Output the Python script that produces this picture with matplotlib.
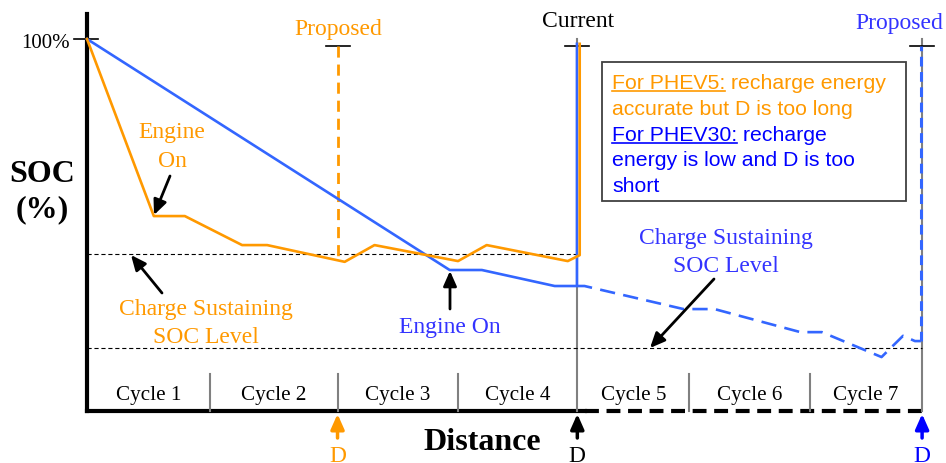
import matplotlib
matplotlib.use("Agg")
import matplotlib.pyplot as plt
from matplotlib.patches import Rectangle

plt.rcParams['lines.scale_dashes'] = False

# ---------------- data (distance in cycles, SOC in %) ----------------
cycle_edges = [0.0, 1.03, 2.10, 3.11, 4.11, 5.05, 6.06, 7.0]
cycle_labels = ["Cycle 1", "Cycle 2", "Cycle 3", "Cycle 4", "Cycle 5", "Cycle 6", "Cycle 7"]
cs_level_phev5 = 42.2
cs_level_phev30 = 16.9
soc_top = 100

phev5_d = [0.0, 0.56, 0.82, 1.30, 1.51, 2.16, 2.41, 3.11, 3.35, 4.03, 4.13, 4.13]
phev5_soc = [100, 52.4, 52.4, 44.6, 44.6, 40.1, 44.6, 40.3, 44.6, 40.3, 41.9, 98.7]

phev30_d = [0.0, 3.04, 3.31, 3.92, 4.107, 4.107]
phev30_soc = [100, 37.9, 37.9, 33.6, 33.6, 98.7]

phev30_proj_d = [4.107, 4.17, 5.00, 5.26, 5.98, 6.16, 6.66, 6.84, 6.94, 6.99, 6.99]
phev30_proj_soc = [33.6, 33.6, 27.4, 27.4, 21.2, 21.2, 14.5, 20.2, 18.8, 18.8, 98.1]

d_proposed_phev5 = 2.10
d_current = 4.11
d_proposed_phev30 = 7.0

ORANGE = '#FF9900'
BLUE_LINE = '#3366FF'
BLUE_TXT = '#3333FF'
BLUE = '#0000FF'
GRAY = '#808080'
SERIF = ['Liberation Serif', 'DejaVu Serif']
SANS = ['Liberation Sans', 'DejaVu Sans']

# pixel helpers for layout
SX, SY = 119.3, 3.72
OX, OY = 87, 412
def X(px):
    return (px - OX) / SX
def Y(py):
    return (OY - py) / SY

fig = plt.figure(figsize=(9.46, 4.64), dpi=100)
ax = fig.add_axes([0, 0, 1, 1])
ax.set_xlim(X(0), X(946))
ax.set_ylim(Y(464), Y(0))
ax.axis('off')

def stext(px, base, s, size=17, color='k', bold=False, ha='center'):
    ax.text(X(px), Y(base), s, ha=ha, va='baseline', fontsize=size, color=color,
            family=SERIF, fontweight='bold' if bold else 'normal')

# axes lines
ax.plot([0, 0], [0, Y(15)], color='k', lw=3, solid_capstyle='projecting')
ax.plot([0, X(585)], [0, 0], color='k', lw=3, solid_capstyle='projecting')
ax.plot([X(585), cycle_edges[-1]], [0, 0], color='k', lw=3, linestyle=(0, (10, 5.5)))

# 100% tick
ax.plot([X(74), X(98)], [soc_top, soc_top], color='k', lw=1.2)
stext(70, 48, "100%", size=15, ha='right')

# cycle dividers and labels
for e in cycle_edges[1:-1]:
    if abs(e - d_current) > 0.05:
        ax.plot([e, e], [0, Y(375)], color=GRAY, lw=1.5)
for i, lab in enumerate(cycle_labels):
    ax.text((cycle_edges[i] + cycle_edges[i + 1]) / 2, Y(400.5), lab, ha='center', va='baseline',
            fontsize=15.2, family=SERIF)

# full-height gray lines (current and right end)
for d in [d_current, d_proposed_phev30]:
    ax.plot([d, d], [0, Y(40)], color=GRAY, lw=1.5)

# top ticks
for d in [d_proposed_phev5, d_current, d_proposed_phev30]:
    ax.plot([d - 12 / SX, d + 12 / SX], [Y(47), Y(47)], color='k', lw=1.2)

# CS dotted levels
ax.plot([0, d_current], [cs_level_phev5, cs_level_phev5], color='k', lw=0.8, linestyle=(0, (3, 2)))
ax.plot([0, d_proposed_phev30], [cs_level_phev30, cs_level_phev30], color='k', lw=0.8, linestyle=(0, (3, 2)))

# proposed PHEV5 dashed line
ax.plot([d_proposed_phev5, d_proposed_phev5], [Y(47), 40.3], color=ORANGE, lw=2, linestyle=(0, (8, 5)))

# SOC traces
ax.plot(phev30_d, phev30_soc, color=BLUE_LINE, lw=1.9)
ax.plot(phev5_d, phev5_soc, color=ORANGE, lw=1.9)
ax.plot(phev30_proj_d[:-1], phev30_proj_soc[:-1], color=BLUE_LINE, lw=1.9, linestyle=(0, (11, 6)))
ax.plot(phev30_proj_d[-2:], phev30_proj_soc[-2:], color=BLUE_LINE, lw=2.2, linestyle=(0, (7, 4)))

# headings
stext(338, 35, "Proposed", color=ORANGE)
stext(578, 27, "Current")
stext(899, 29, "Proposed", color=BLUE_TXT)

stext(42, 182, "SOC", size=23, bold=True)
stext(42, 217, "(%)", size=23, bold=True)
stext(482, 450, "Distance", size=23, bold=True)

# annotations
stext(172, 138, "Engine", color=ORANGE)
stext(172, 167, "On", color=ORANGE)
stext(206, 315, "Charge Sustaining", color=ORANGE)
stext(206, 343, "SOC Level", color=ORANGE)
stext(450, 333, "Engine On", color=BLUE_TXT)
stext(726, 244, "Charge Sustaining", color=BLUE_TXT)
stext(726, 272, "SOC Level", color=BLUE_TXT)

arrow_kw = dict(arrowstyle='-|>,head_length=0.45,head_width=0.2', color='k', lw=2,
                mutation_scale=20, shrinkA=0, shrinkB=0)
ax.annotate('', xy=(X(154), Y(216)), xytext=(X(170), Y(177)), arrowprops=arrow_kw)
ax.annotate('', xy=(X(131), Y(256)), xytext=(X(162), Y(294)), arrowprops=arrow_kw)
ax.annotate('', xy=(X(450), Y(272)), xytext=(X(450), Y(310)), arrowprops=arrow_kw)
ax.annotate('', xy=(X(650), Y(349)), xytext=(X(714), Y(280)), arrowprops=arrow_kw)

# D markers
for d, c in [(d_proposed_phev5, ORANGE), (d_current, 'k'), (d_proposed_phev30, BLUE)]:
    kw = dict(arrow_kw)
    kw['color'] = c
    kw['lw'] = 2.5
    ax.annotate('', xy=(d, Y(415)), xytext=(d, Y(439)), arrowprops=kw)
    ax.text(d, Y(462), "D", ha='center', va='baseline', fontsize=17, color=c, family=SERIF)

# info box
ax.add_patch(Rectangle((X(602), Y(202)), X(906) - X(602), Y(63) - Y(202),
                       facecolor='white', edgecolor='#404040', lw=1.3, zorder=3))

lines = [
    [("For PHEV5:", ORANGE, True), (" recharge energy", ORANGE, False)],
    [("accurate but D is too long", ORANGE, False)],
    [("For PHEV30:", BLUE, True), (" recharge", BLUE, False)],
    [("energy is low and D is too", BLUE, False)],
    [("short", BLUE, False)],
]
baselines = [89, 115, 141, 166, 192]
fig.canvas.draw()
renderer = fig.canvas.get_renderer()
inv = ax.transData.inverted()
for segs, by in zip(lines, baselines):
    x = X(612)
    for txt, col, ul in segs:
        t = ax.text(x, Y(by), txt, ha='left', va='baseline', fontsize=15.3, color=col,
                    family=SANS, zorder=4)
        bb = t.get_window_extent(renderer)
        x0 = inv.transform((bb.x0, bb.y0))[0]
        x1 = inv.transform((bb.x1, bb.y0))[0]
        if ul:
            ax.plot([x0, x1], [Y(by + 2.5), Y(by + 2.5)], color=col, lw=1.2, zorder=4)
        x = x1

fig.savefig("out.png", dpi=100)
